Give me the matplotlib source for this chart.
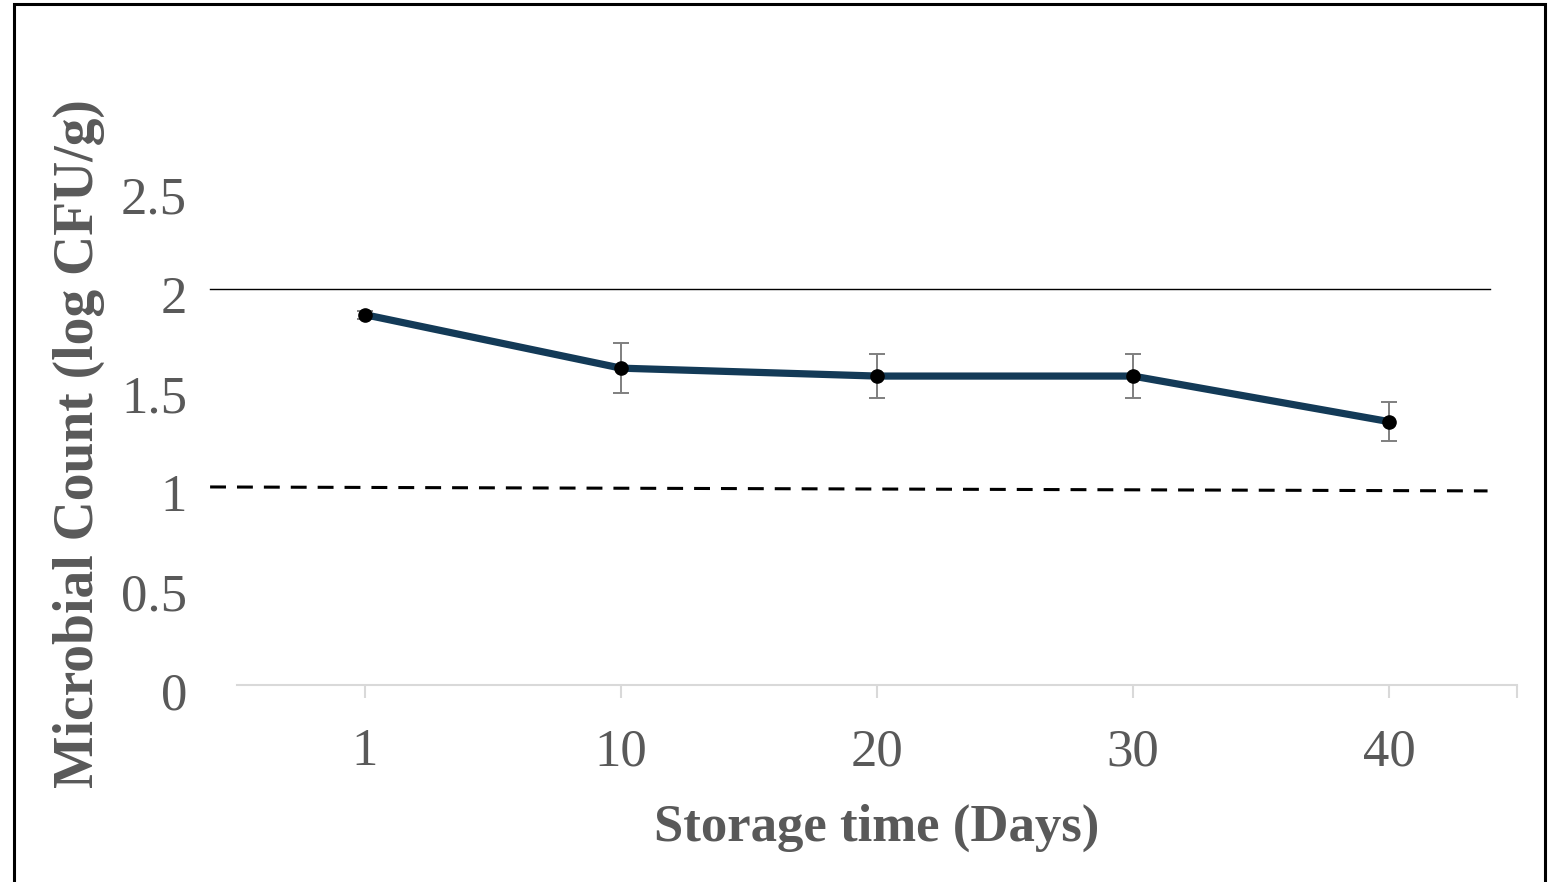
import matplotlib.pyplot as plt
from matplotlib.patches import Rectangle
from matplotlib.transforms import ScaledTranslation

# storage days and mean counts (log CFU/g) with standard deviations
days = ["1", "10", "20", "30", "40"]
counts = [1.87, 1.60, 1.56, 1.56, 1.33]
errors = [0.02, 0.125, 0.11, 0.11, 0.10]
upper_limit = 2.0
lower_limit = 1.0

TEXT = "#595959"
plt.rcParams["font.family"] = ["Liberation Serif", "DejaVu Serif"]

fig = plt.figure(figsize=(15.57, 8.82), dpi=100)
ax = fig.add_axes([0.1522, 0.2234, 0.8221, 0.6735])

x = range(len(days))
ax.plot(x, counts, color="#133a57", lw=5.2, zorder=3, solid_capstyle="butt")
ax.errorbar(x, counts, yerr=errors, fmt="none", ecolor="#7f7f7f",
            elinewidth=1.4, capsize=6, capthick=1.4, zorder=2)
ax.plot(x, counts, "o", color="black", ms=9.5, zorder=4)

# reference limits drawn across the plot
ax.plot([-0.605, 4.395], [upper_limit, upper_limit], color="black", lw=1.0,
        clip_on=False, zorder=1)
ax.plot([-0.605, 4.385], [lower_limit, lower_limit - 0.02], color="black",
        lw=2.2, ls=(0, (5.2, 3.6)), clip_on=False, zorder=1)

ax.set_xlim(-0.5, 4.5)
ax.set_ylim(0, 3)
ax.set_xticks(list(x) + [4.5])
ax.set_xticklabels(days + [""])
ax.set_yticks([0, 0.5, 1, 1.5, 2, 2.5])
ax.set_yticklabels(["0", "0.5", "1", "1.5", "2", "2.5"])

for side in ["top", "right", "left"]:
    ax.spines[side].set_visible(False)
ax.spines["bottom"].set_color("#d9d9d9")
ax.spines["bottom"].set_linewidth(1.5)
ax.tick_params(axis="x", colors="#d9d9d9", width=1.5, length=9,
               labelcolor=TEXT, labelsize=38, pad=22)
ax.tick_params(axis="y", length=0, labelcolor=TEXT, labelsize=38, pad=36)
shift = ScaledTranslation(0, -4 / 72, fig.dpi_scale_trans)
for lbl in ax.get_yticklabels():
    lbl.set_transform(lbl.get_transform() + shift)

ax.set_xlabel("Storage time (Days)", fontsize=38, fontweight="bold",
              color=TEXT, labelpad=20)
ax.set_ylabel("Microbial Count (log CFU/g)", fontsize=40, fontweight="bold",
              color=TEXT, labelpad=12)
ax.yaxis.set_label_coords(-0.103, 0.407)

# outer frame around the figure
fig.patches.append(Rectangle((14 / 1557, -0.05), 1531 / 1557, 1.05 - 4 / 882,
                             transform=fig.transFigure, fill=False,
                             edgecolor="black", lw=2.2))

fig.savefig("out.png", dpi=100)
